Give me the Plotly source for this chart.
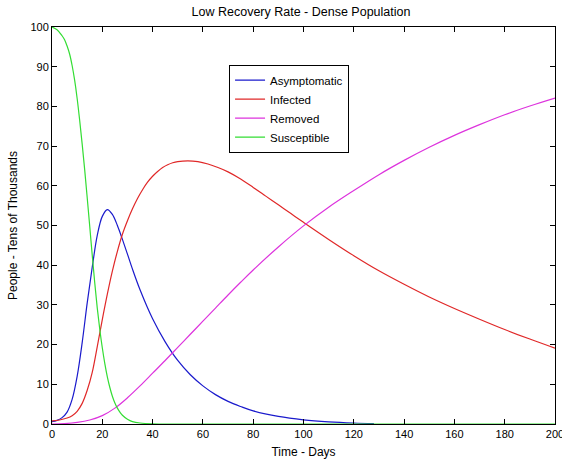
import plotly.graph_objects as go

# Susceptible (green)
t_s = [0, 2, 4, 5, 6, 7, 8, 9, 10, 11, 12, 13, 14, 15, 16, 17, 18, 19, 20, 21, 22, 23, 24, 25, 26, 27, 28, 30, 32, 35, 40, 50, 100, 150, 200]
v_s = [100, 99.3, 97.8, 96.8, 95.2, 93.2, 90.3, 86.6, 82, 76.5, 70.5, 64, 57, 49.8, 42.5, 35.5, 29.2, 23.8, 19.2, 15.2, 11.9, 9.2, 7.0, 5.3, 4.0, 3.0, 2.2, 1.2, 0.6, 0.25, 0.05, 0, 0, 0, 0]

# Asymptomatic (blue)
t_a = [0, 2, 4, 6, 8, 10, 12, 14, 16, 18, 20, 22, 24, 26, 28, 30, 32, 35, 40, 45, 50, 55, 60, 65, 70, 75, 80, 90, 100, 110, 120, 128]
v_a = [0.6, 0.9, 1.6, 3.0, 6.2, 12.0, 20.5, 30.5, 39.5, 47.5, 52.3, 54.0, 52.8, 50.0, 46.5, 42.8, 39.0, 33.8, 26.5, 20.7, 16.0, 12.4, 9.6, 7.4, 5.7, 4.4, 3.3, 1.9, 1.05, 0.55, 0.25, 0.12]

# Infected (red)
t_i = [0, 3, 6, 8, 10, 12, 14, 16, 18, 20, 22, 24, 26, 28, 30, 32, 34, 36, 38, 40, 42, 44, 46, 48, 50, 54, 58, 62, 66, 70, 75, 80, 85, 90, 95, 100, 110, 120, 130, 140, 150, 160, 170, 180, 190, 200]
v_i = [0.8, 1.0, 1.5, 2.1, 3.2, 5.2, 8.5, 13, 19.5, 26.3, 32.7, 38.5, 43.5, 47.8, 51.2, 54.2, 56.8, 59, 60.9, 62.4, 63.6, 64.6, 65.3, 65.8, 66.1, 66.3, 66.1, 65.5, 64.6, 63.5, 61.7, 59.6, 57.4, 55.2, 53, 50.8, 46.5, 42.4, 38.6, 35.2, 32, 29.1, 26.4, 23.8, 21.4, 19.1]

# Removed (magenta)
t_r = [0, 5, 10, 15, 20, 25, 30, 35, 40, 45, 50, 55, 60, 65, 70, 75, 80, 90, 100, 110, 120, 130, 140, 150, 160, 170, 180, 190, 200]
v_r = [0, 0.1, 0.4, 1.0, 2.1, 4.0, 6.6, 9.6, 12.8, 16.0, 19.3, 22.6, 25.9, 29.2, 32.5, 35.7, 38.8, 44.6, 49.9, 54.6, 58.8, 62.8, 66.4, 69.7, 72.7, 75.4, 77.9, 80.1, 82.1]

x_ticks = [0, 20, 40, 60, 80, 100, 120, 140, 160, 180, 200]
y_ticks = [0, 10, 20, 30, 40, 50, 60, 70, 80, 90, 100]

FONT = "Liberation Sans, Arial, sans-serif"

fig = go.Figure()
series = [
    ("Asymptomatic", t_a, v_a, "#1a1acc"),
    ("Infected", t_i, v_i, "#e02828"),
    ("Removed", t_r, v_r, "#dd33dd"),
    ("Susceptible", t_s, v_s, "#33dd33"),
]
for name, t, v, c in series:
    fig.add_trace(go.Scatter(x=t, y=v, mode="lines", name=name,
                             line=dict(color=c, width=1.2, shape="spline", smoothing=1.0)))

axis_common = dict(showline=True, linecolor="black", linewidth=1, mirror="allticks",
                   ticks="inside", ticklen=5, tickcolor="black", showgrid=False, zeroline=False,
                   tickfont=dict(family=FONT, size=11, color="black"))

fig.update_layout(
    width=562, height=461,
    margin=dict(l=52, r=7, t=27, b=37, autoexpand=False),
    paper_bgcolor="white", plot_bgcolor="white",
    title=dict(text="Low Recovery Rate - Dense Population", x=301 / 562, xanchor="center",
               xref="container", y=1 - 12 / 461, yanchor="middle",
               font=dict(family=FONT, size=12.5, color="black")),
    xaxis=dict(range=[0, 200], tickvals=x_ticks, automargin=False, ticklabeloverflow="allow",
               title=dict(text="Time - Days", standoff=8, font=dict(family=FONT, size=12, color="black")),
               **axis_common),
    yaxis=dict(range=[0, 100], tickvals=y_ticks, automargin=False,
               title=dict(text="People - Tens of Thousands", standoff=10, font=dict(family=FONT, size=12, color="black")),
               **axis_common),
    legend=dict(x=0.352, y=0.905, xanchor="left", yanchor="top",
                bgcolor="white", bordercolor="black", borderwidth=1,
                font=dict(family=FONT, size=11.5, color="black"),
                tracegroupgap=0, itemwidth=30),
    showlegend=True,
)

fig.write_html("out.html")
